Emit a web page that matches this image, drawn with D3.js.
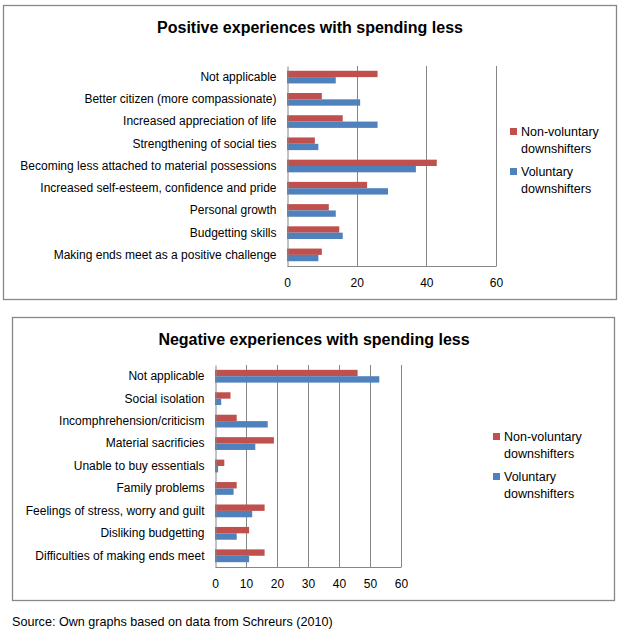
<!DOCTYPE html>
<html><head><meta charset="utf-8">
<script src="https://cdn.jsdelivr.net/npm/d3@7"></script>
<style>
body{margin:0;background:#fff;}
svg text{font-family:"Liberation Sans",Arial,sans-serif;fill:#000;}
</style></head>
<body><svg id="c" width="624" height="633"></svg>
<script>
const seriesNames = ["Non-voluntary downshifters", "Voluntary downshifters"];
const colors = ["#C0504D", "#4F81BD"];

const posCategories = ["Not applicable", "Better citizen (more compassionate)", "Increased appreciation of life",
  "Strengthening of social ties", "Becoming less attached to material possessions",
  "Increased self-esteem, confidence and pride", "Personal growth", "Budgetting skills",
  "Making ends meet as a positive challenge"];
const posNonVoluntary = [26, 10, 16, 8, 43, 23, 12, 15, 10];
const posVoluntary = [14, 21, 26, 9, 37, 29, 14, 16, 9];
const posTicks = [0, 20, 40, 60];

const negCategories = ["Not applicable", "Social isolation", "Incomphrehension/criticism ", "Material sacrificies",
  "Unable to buy essentials", "Family problems", "Feelings of stress, worry and guilt",
  "Disliking budgetting", "Difficulties of making ends meet"];
const negNonVoluntary = [46, 5, 7, 19, 3, 7, 16, 11, 16];
const negVoluntary = [53, 2, 17, 13, 1, 6, 12, 7, 11];
const negTicks = [0, 10, 20, 30, 40, 50, 60];

const svg = d3.select("#c");
const FF = "'Liberation Sans',Arial,sans-serif";

function drawChart(o) {
  const g = svg.append("g");
  g.append("rect").attr("x", o.box[0] + 0.5).attr("y", o.box[1] + 0.5)
    .attr("width", o.box[2] - o.box[0]).attr("height", o.box[3] - o.box[1])
    .attr("fill", "#fff").attr("stroke", "#878787").attr("stroke-width", 1.3);
  g.append("text").attr("x", o.titleX).attr("y", o.titleY).attr("text-anchor", "middle")
    .style("font-family", FF).style("font-weight", "bold").style("font-size", "16px").text(o.title);

  const x = d3.scaleLinear().domain([0, 60]).range([o.x0, o.x1]);
  const y = d3.scaleBand().domain(o.categories).range([o.y0, o.y1]).paddingInner(0.43).paddingOuter(0.215);
  const barH = y.bandwidth() / 2;

  // gridlines
  g.append("g").selectAll("line").data(o.ticks.slice(1)).join("line")
    .attr("x1", d => Math.round(x(d)) + 0.5).attr("x2", d => Math.round(x(d)) + 0.5)
    .attr("y1", o.y0).attr("y2", o.y1).attr("stroke", "#868686").attr("stroke-width", 1);

  const rows = o.categories.map((c, i) => ({c, v: [o.a[i], o.b[i]]}));
  rows.forEach(r => {
    r.v.forEach((v, k) => {
      g.append("rect").attr("x", x(0)).attr("y", y(r.c) + k * barH)
        .attr("width", x(v) - x(0)).attr("height", barH).attr("fill", colors[k]);
    });
  });

  // axes
  const ax = g.append("g").attr("transform", `translate(0,${o.y1})`)
    .call(d3.axisBottom(x).tickValues(o.ticks).tickSize(0).tickPadding(12));
  ax.select(".domain").attr("stroke", "#868686");
  ax.selectAll("text").style("font-size", "12px").attr("fill", "#000").style("font-family", FF);
  const ay = g.append("g").attr("transform", `translate(${Math.round(x(0)) + 0.5},0)`)
    .call(d3.axisLeft(y).tickSize(0).tickPadding(o.labelPad));
  ay.select(".domain").attr("stroke", "#868686");
  ay.selectAll("text").style("font-size", "12px").attr("fill", "#000").style("font-family", FF);

  // legend
  const lg = g.append("g");
  seriesNames.forEach((s, k) => {
    const words = s.split(" ");
    const ly = o.legY + k * 40;
    lg.append("rect").attr("x", o.legX).attr("y", ly - 4).attr("width", 7).attr("height", 7).attr("fill", colors[k]);
    const t = lg.append("text").attr("x", o.legX + 11).attr("y", ly + 4).style("font-size", "12.5px")
      .style("font-family", FF);
    t.append("tspan").attr("x", o.legX + 11).text(words[0]);
    t.append("tspan").attr("x", o.legX + 11).attr("dy", 17).text(words[1]);
  });
}

drawChart({box: [3, 5, 616, 299], title: "Positive experiences with spending less", titleX: 310, titleY: 33,
  categories: posCategories, a: posNonVoluntary, b: posVoluntary, ticks: posTicks,
  x0: 287, x1: 496, y0: 66, y1: 266, labelPad: 11, legX: 510, legY: 132});
drawChart({box: [12, 317, 614, 600], title: "Negative experiences with spending less", titleX: 314, titleY: 345,
  categories: negCategories, a: negNonVoluntary, b: negVoluntary, ticks: negTicks,
  x0: 215, x1: 401, y0: 365, y1: 567, labelPad: 11, legX: 493, legY: 437});

svg.append("text").attr("x", 12).attr("y", 626).style("font-size", "12.6px").style("font-family", FF)
  .text("Source: Own graphs based on data from Schreurs (2010)");
</script></body></html>
